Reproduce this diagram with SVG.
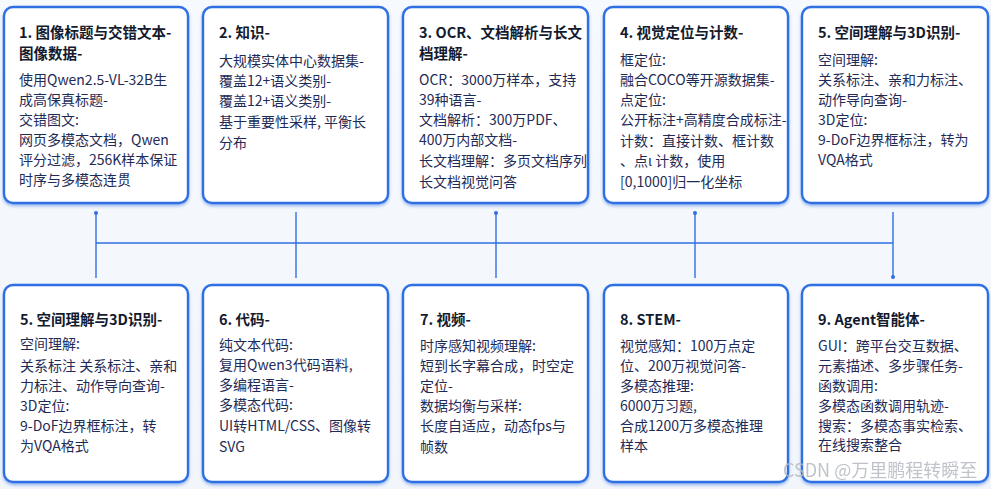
<svg xmlns="http://www.w3.org/2000/svg" width="991" height="489" viewBox="0 0 991 489">
<defs>
<linearGradient id="bg" x1="0" y1="0" x2="0" y2="1">
<stop offset="0" stop-color="#f6f9fd"/>
<stop offset="1" stop-color="#f2f6fb"/>
</linearGradient>
<filter id="sh" x="-10%" y="-10%" width="120%" height="125%">
<feDropShadow dx="0" dy="2" stdDeviation="1.5" flood-color="#2a6ae0" flood-opacity="0.45"/>
</filter>
</defs>
<style>
.box{fill:#ffffff;stroke:#2f6fe3;stroke-width:2.4;filter:url(#sh)}
.t{font-family:"Noto Sans CJK SC","Noto Sans",sans-serif;font-size:14.5px;font-weight:bold;fill:#141a2e}
.b{font-family:"Noto Sans CJK SC","Noto Sans",sans-serif;font-size:14px;fill:#1f2b57}
.c{stroke:#2f6fe3;stroke-width:1.4;fill:none}
.d{fill:#2f6fe3}
.wm{font-family:"Noto Sans CJK SC","Noto Sans",sans-serif;font-size:18px;fill:#b4b9c0;opacity:0.85}
</style>
<rect width="991" height="489" fill="url(#bg)"/>

<g id="connectors">
<line class="c" x1="96" y1="243" x2="893" y2="243"/>
<line class="c" x1="96" y1="212" x2="96" y2="278"/>
<line class="c" x1="296" y1="212" x2="296" y2="278"/>
<line class="c" x1="496" y1="212" x2="496" y2="278"/>
<line class="c" x1="695" y1="212" x2="695" y2="278"/>
<line class="c" x1="893" y1="212" x2="893" y2="278"/>
<circle class="d" cx="96" cy="213" r="2"/>
<circle class="d" cx="496" cy="213" r="2"/>
<circle class="d" cx="695" cy="213" r="2"/>
<circle class="d" cx="893" cy="277" r="2"/>
</g>

<g id="n1">
<rect class="box" x="4" y="7" width="184" height="196" rx="9"/>
<text class="t" x="19" y="38">1. 图像标题与交错文本-</text>
<text class="t" x="19" y="59">图像数据-</text>
<text class="b" x="19" y="85">使用Qwen2.5-VL-32B生</text>
<text class="b" x="19" y="105">成高保真标题-</text>
<text class="b" x="19" y="125">交错图文:</text>
<text class="b" x="19" y="145">网页多模态文档，Qwen</text>
<text class="b" x="19" y="165">评分过滤，256K样本保证</text>
<text class="b" x="19" y="185">时序与多模态连贯</text>
</g>

<g id="n2">
<rect class="box" x="203" y="7" width="185" height="196" rx="9"/>
<text class="t" x="219" y="38">2. 知识-</text>
<text class="b" x="219" y="66">大规模实体中心数据集-</text>
<text class="b" x="219" y="86">覆盖12+语义类别-</text>
<text class="b" x="219" y="106">覆盖12+语义类别-</text>
<text class="b" x="219" y="127">基于重要性采样, 平衡长</text>
<text class="b" x="219" y="148">分布</text>
</g>

<g id="n3">
<rect class="box" x="403" y="7" width="185" height="196" rx="9"/>
<text class="t" x="419" y="38">3. OCR、文档解析与长文</text>
<text class="t" x="419" y="59">档理解-</text>
<text class="b" x="419" y="85">OCR：3000万样本，支持</text>
<text class="b" x="419" y="105">39种语言-</text>
<text class="b" x="419" y="125">文档解析：300万PDF、</text>
<text class="b" x="419" y="145">400万内部文档-</text>
<text class="b" x="419" y="166">长文档理解：多页文档序列</text>
<text class="b" x="419" y="187">长文档视觉问答</text>
</g>

<g id="n4">
<rect class="box" x="604" y="7" width="184" height="196" rx="9"/>
<text class="t" x="620" y="38">4. 视觉定位与计数-</text>
<text class="b" x="620" y="65">框定位:</text>
<text class="b" x="620" y="85">融合COCO等开源数据集-</text>
<text class="b" x="620" y="105">点定位:</text>
<text class="b" x="620" y="125">公开标注+高精度合成标注-</text>
<text class="b" x="620" y="146">计数：直接计数、框计数</text>
<text class="b" x="620" y="166">、点ι 计数，使用</text>
<text class="b" x="620" y="187">[0,1000]归一化坐标</text>
</g>

<g id="n5">
<rect class="box" x="802" y="7" width="186" height="196" rx="9"/>
<text class="t" x="818" y="38">5. 空间理解与3D识别-</text>
<text class="b" x="818" y="65">空间理解:</text>
<text class="b" x="818" y="85">关系标注、亲和力标注、</text>
<text class="b" x="818" y="105">动作导向查询-</text>
<text class="b" x="818" y="125">3D定位:</text>
<text class="b" x="818" y="145">9-DoF边界框标注，转为</text>
<text class="b" x="818" y="165">VQA格式</text>
</g>

<g id="n6">
<rect class="box" x="4" y="285" width="184" height="197" rx="9"/>
<text class="t" x="20" y="325">5. 空间理解与3D识别-</text>
<text class="b" x="20" y="349">空间理解:</text>
<text class="b" x="20" y="371">关系标注 关系标注、亲和</text>
<text class="b" x="20" y="391">力标注、动作导向查询-</text>
<text class="b" x="20" y="411">3D定位:</text>
<text class="b" x="20" y="431">9-DoF边界框标注，转</text>
<text class="b" x="20" y="451">为VQA格式</text>
</g>

<g id="n7">
<rect class="box" x="203" y="285" width="185" height="197" rx="9"/>
<text class="t" x="219" y="325">6. 代码-</text>
<text class="b" x="219" y="350">纯文本代码:</text>
<text class="b" x="219" y="370">复用Qwen3代码语料,</text>
<text class="b" x="219" y="390">多编程语言-</text>
<text class="b" x="219" y="410">多模态代码:</text>
<text class="b" x="219" y="431">UI转HTML/CSS、图像转</text>
<text class="b" x="219" y="452">SVG</text>
</g>

<g id="n8">
<rect class="box" x="403" y="285" width="185" height="197" rx="9"/>
<text class="t" x="420" y="325">7. 视频-</text>
<text class="b" x="420" y="351">时序感知视频理解:</text>
<text class="b" x="420" y="371">短到长字幕合成，时空定</text>
<text class="b" x="420" y="391">定位-</text>
<text class="b" x="420" y="411">数据均衡与采样:</text>
<text class="b" x="420" y="431">长度自适应，动态fps与</text>
<text class="b" x="420" y="452">帧数</text>
</g>

<g id="n9">
<rect class="box" x="604" y="285" width="184" height="197" rx="9"/>
<text class="t" x="620" y="325">8. STEM-</text>
<text class="b" x="620" y="351">视觉感知：100万点定</text>
<text class="b" x="620" y="371">位、200万视觉问答-</text>
<text class="b" x="620" y="391">多模态推理:</text>
<text class="b" x="620" y="411">6000万习题,</text>
<text class="b" x="620" y="431">合成1200万多模态推理</text>
<text class="b" x="620" y="451">样本</text>
</g>

<g id="n10">
<rect class="box" x="802" y="285" width="186" height="197" rx="9"/>
<text class="t" x="818" y="325">9. Agent智能体-</text>
<text class="b" x="818" y="351">GUI：跨平台交互数据、</text>
<text class="b" x="818" y="371">元素描述、多步骤任务-</text>
<text class="b" x="818" y="391">函数调用:</text>
<text class="b" x="818" y="411">多模态函数调用轨迹-</text>
<text class="b" x="818" y="431">搜索：多模态事实检索、</text>
<text class="b" x="818" y="450">在线搜索整合</text>
</g>

<text class="wm" x="783" y="477">CSDN @万里鹏程转瞬至</text>
</svg>
